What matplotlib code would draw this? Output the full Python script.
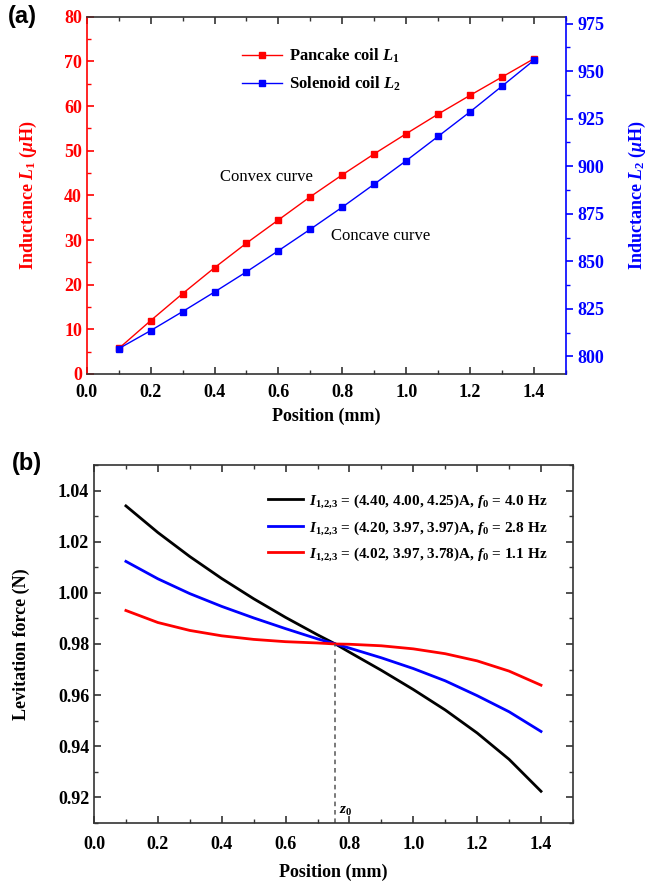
import matplotlib
matplotlib.use("Agg")
import matplotlib.pyplot as plt
from matplotlib.ticker import MultipleLocator, FormatStrFormatter

plt.rcParams['font.family'] = ['Liberation Serif', 'DejaVu Serif']
plt.rcParams['font.weight'] = 'bold'
plt.rcParams['axes.labelweight'] = 'bold'
plt.rcParams['mathtext.fontset'] = 'custom'
plt.rcParams['mathtext.rm'] = 'Liberation Serif:bold'
plt.rcParams['mathtext.it'] = 'Liberation Serif:bold:italic'
plt.rcParams['mathtext.bf'] = 'Liberation Serif:bold'

# ---- (a) inductance vs position ----
position_a = [0.1, 0.2, 0.3, 0.4, 0.5, 0.6, 0.7, 0.8, 0.9, 1.0, 1.1, 1.2, 1.3, 1.4]
pancake_L1 = [5.7, 11.95, 18.0, 23.8, 29.3, 34.5, 39.7, 44.6, 49.3, 53.8, 58.2, 62.4, 66.5, 70.6]
solenoid_L2 = [804.1, 813.6, 823.6, 833.9, 844.5, 855.6, 866.9, 878.5, 890.6, 902.9,
               915.7, 928.6, 942.1, 955.7]

# ---- (b) levitation force vs position ----
position_b = [0.1, 0.2, 0.3, 0.4, 0.5, 0.6, 0.7, 0.756, 0.8, 0.9, 1.0, 1.1, 1.2, 1.3, 1.4]
force_f40 = [1.0340, 1.0236, 1.0142, 1.0056, 0.9977, 0.9904, 0.9836, 0.9800, 0.9768,
             0.9697, 0.9622, 0.9542, 0.9452, 0.9349, 0.9224]
force_f28 = [1.0123, 1.0055, 0.9997, 0.9947, 0.9902, 0.9860, 0.9820, 0.9800, 0.9784,
             0.9746, 0.9704, 0.9656, 0.9598, 0.9535, 0.9458]
force_f11 = [0.9931, 0.9884, 0.9853, 0.9832, 0.9818, 0.9809, 0.9804, 0.9800, 0.9799,
             0.9793, 0.9781, 0.9762, 0.9734, 0.9694, 0.9639]
labels_b = [r"$I_{1{,}2{,}3}$ = (4.40, 4.00, 4.25)A, $f_0$ = 4.0 Hz",
            r"$I_{1{,}2{,}3}$ = (4.20, 3.97, 3.97)A, $f_0$ = 2.8 Hz",
            r"$I_{1{,}2{,}3}$ = (4.02, 3.97, 3.78)A, $f_0$ = 1.1 Hz"]
z0 = 0.756
force_z0 = 0.98

RED = '#ff0000'
BLUE = '#0000ff'
SPINE = '#333333'

fig = plt.figure(figsize=(6.68, 8.84), dpi=100)

# ===== panel (a) =====
ax1 = fig.add_axes([0.130, 0.577, 0.717, 0.404])
ax2 = ax1.twinx()
l1, = ax1.plot(position_a, pancake_L1, '-s', color=RED, lw=1.0, ms=5,
               label=r"Pancake coil $L_1$")
l2, = ax2.plot(position_a, solenoid_L2, '-s', color=BLUE, lw=1.0, ms=5,
               label=r"Solenoid coil $L_2$")
ax1.set_xlim(0, 1.5)
ax1.set_ylim(0, 80)
ax2.set_ylim(790.8, 978.6)
ax1.xaxis.set_major_locator(MultipleLocator(0.2))
ax1.xaxis.set_minor_locator(MultipleLocator(0.1))
ax1.yaxis.set_major_locator(MultipleLocator(10))
ax1.yaxis.set_minor_locator(MultipleLocator(5))
ax2.yaxis.set_major_locator(MultipleLocator(25))
ax2.yaxis.set_minor_locator(MultipleLocator(12.5))

for sp in ['top', 'bottom']:
    ax1.spines[sp].set_color(SPINE)
    ax1.spines[sp].set_linewidth(1.2)
ax1.spines['left'].set_color(RED)
ax1.spines['left'].set_linewidth(1.2)
ax2.spines['right'].set_color(BLUE)
ax2.spines['right'].set_linewidth(1.2)
ax2.spines['left'].set_visible(False)
ax2.spines['top'].set_visible(False)
ax2.spines['bottom'].set_visible(False)
ax1.spines['right'].set_visible(False)

ax1.tick_params(axis='x', which='both', direction='in', top=True, bottom=True,
                colors=SPINE, labelcolor='black', labelsize=13, pad=7)
ax1.tick_params(axis='x', which='major', length=5, width=1.2)
ax1.tick_params(axis='x', which='minor', length=3, width=1.0)
ax1.tick_params(axis='y', which='both', direction='in', colors=RED, labelsize=13)
ax1.tick_params(axis='y', which='major', length=5, width=1.2)
ax1.tick_params(axis='y', which='minor', length=3, width=1.0)
ax2.tick_params(axis='y', which='both', direction='out', colors=BLUE, labelsize=13)
ax2.tick_params(axis='y', which='major', length=5, width=1.2)
ax2.tick_params(axis='y', which='minor', length=3, width=1.0)
ax1.xaxis.set_major_formatter(FormatStrFormatter('%.1f'))

ax1.set_xlabel("Position (mm)", fontsize=13, labelpad=5)
ax1.set_ylabel(r"Inductance $L_1$ ($\mu$H)", fontsize=13, color=RED, labelpad=18)
ax2.set_ylabel(r"Inductance $L_2$ ($\mu$H)", fontsize=13, color=BLUE, labelpad=16)

ax1.legend(handles=[l1, l2], loc='upper left', bbox_to_anchor=(0.31, 0.935),
           frameon=False, fontsize=12, handlelength=2.4, handletextpad=0.4,
           labelspacing=0.6, borderaxespad=0)

ax1.text(0.5625, 44.2, "Convex curve", fontsize=12, fontweight='normal',
         ha='center', va='center')
ax1.text(0.92, 30.9, "Concave curve", fontsize=12, fontweight='normal',
         ha='center', va='center')
ax2.set_zorder(ax1.get_zorder() + 1)

fig.text(0.012, 0.981, "(a)", fontsize=17, fontweight='bold',
         family='Liberation Sans', va='center', ha='left')

# ===== panel (b) =====
ax3 = fig.add_axes([0.1407, 0.069, 0.717, 0.405])
for vals, col, lab in zip([force_f40, force_f28, force_f11],
                          ['black', BLUE, RED], labels_b):
    ax3.plot(position_b, vals, '-', color=col, lw=2.0, label=lab)
ax3.plot([z0, z0], [0.91, force_z0], '--', color='#555555', lw=1.1,
         dashes=(3, 2.5))
ax3.text(z0 + 0.012, 0.9118, r"$z_0$", fontsize=11, ha='left', va='bottom')
ax3.set_xlim(0, 1.5)
ax3.set_ylim(0.91, 1.05)
ax3.xaxis.set_major_locator(MultipleLocator(0.2))
ax3.xaxis.set_minor_locator(MultipleLocator(0.1))
ax3.yaxis.set_major_locator(MultipleLocator(0.02))
ax3.yaxis.set_minor_locator(MultipleLocator(0.01))
ax3.xaxis.set_major_formatter(FormatStrFormatter('%.1f'))
ax3.yaxis.set_major_formatter(FormatStrFormatter('%.2f'))
for sp in ax3.spines.values():
    sp.set_color(SPINE)
    sp.set_linewidth(1.2)
ax3.tick_params(which='both', direction='in', top=True, right=True,
                colors=SPINE, labelcolor='black', labelsize=13)
ax3.tick_params(axis='x', pad=9)
ax3.tick_params(which='major', length=5, width=1.2)
ax3.tick_params(which='minor', length=3, width=1.0)
ax3.set_xlabel("Position (mm)", fontsize=13, labelpad=8)
ax3.set_ylabel("Levitation force (N)", fontsize=13, labelpad=20)
ax3.legend(loc='upper left', bbox_to_anchor=(0.35, 0.94), frameon=False,
           fontsize=11, handlelength=2.3, handletextpad=0.4,
           labelspacing=0.6, borderaxespad=0)

fig.text(0.018, 0.476, "(b)", fontsize=17, fontweight='bold',
         family='Liberation Sans', va='center', ha='left')

fig.savefig("out.png", dpi=100)
